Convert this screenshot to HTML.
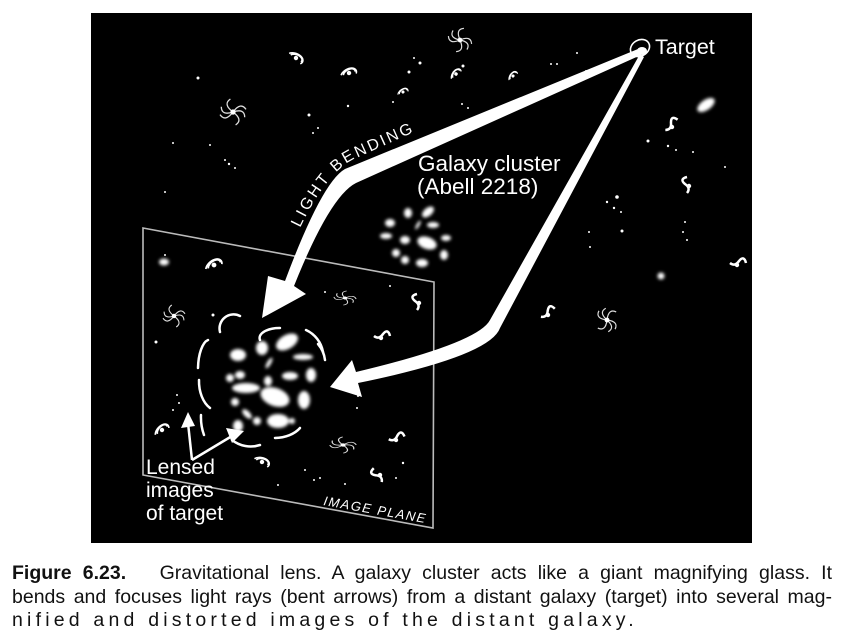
<!DOCTYPE html>
<html><head><meta charset="utf-8"><style>
html,body{margin:0;padding:0;background:#fff;width:846px;height:644px;overflow:hidden}
svg{position:absolute;left:0;top:0}
.cap{position:absolute;left:12px;top:562px;width:820px;font-family:"Liberation Sans",sans-serif;font-size:19.5px;line-height:23.5px;color:#111}
.ln{text-align:justify;text-align-last:justify;white-space:nowrap;height:23.5px}
.l3{text-align:left;text-align-last:left;letter-spacing:4.2px}
</style></head><body>
<svg width="846" height="644" viewBox="0 0 846 644">
<defs>
<filter id="b" x="-50%" y="-50%" width="200%" height="200%"><feGaussianBlur stdDeviation="1.6"/></filter>
<g id="sp"><path d="M-8,-2 A8,5 0 1 1 6,4 M6,2 A5,3 0 1 0 -6,-1" fill="none" stroke="#fff" stroke-width="1.6"/><circle r="2.2" fill="#fff"/></g>
<g id="sw"><path d="M0,0 q6,-8 10,-2 M0,0 q-6,8 -10,2 M0,0 q8,6 2,10 M0,0 q-8,-6 -2,-10 M0,0 q9,-3 9,4 M0,0 q-9,3 -9,-4" fill="none" stroke="#ddd" stroke-width="1"/><circle r="2" fill="#fff"/></g>
<g id="ss"><path d="M-2,-9 q-8,2 -2,7 q6,4 2,9" fill="none" stroke="#fff" stroke-width="2.5"/><circle r="2.2" fill="#fff"/></g>
</defs>
<rect x="91" y="13" width="661" height="530" fill="#000"/>
<g fill="#fff">
<circle cx="198" cy="78" r="1.5"/><circle cx="173" cy="143" r="1"/><circle cx="210" cy="145" r="1"/><circle cx="229" cy="164" r="1.2"/><circle cx="165" cy="192" r="1"/><circle cx="235" cy="168" r="1"/><circle cx="309" cy="115" r="1.5"/><circle cx="313" cy="133" r="1"/><circle cx="318" cy="128" r="1"/><circle cx="348" cy="106" r="1.2"/><circle cx="225" cy="160" r="1"/>
<circle cx="409" cy="72" r="1.5"/><circle cx="414" cy="58" r="1"/><circle cx="420" cy="63" r="1.5"/><circle cx="463" cy="66" r="1.5"/><circle cx="393" cy="102" r="1"/><circle cx="462" cy="104" r="1"/><circle cx="468" cy="108" r="1"/><circle cx="551" cy="64" r="1"/><circle cx="557" cy="64" r="1"/><circle cx="577" cy="53" r="1"/><circle cx="586" cy="71" r="1"/>
<circle cx="648" cy="141" r="1.5"/><circle cx="668" cy="146" r="1.2"/><circle cx="676" cy="150" r="1"/><circle cx="693" cy="152" r="1"/><circle cx="725" cy="167" r="1"/><circle cx="607" cy="202" r="1.2"/><circle cx="617" cy="197" r="1.8"/><circle cx="614" cy="208" r="1.2"/><circle cx="621" cy="212" r="1"/><circle cx="589" cy="232" r="1"/><circle cx="622" cy="231" r="1.5"/><circle cx="685" cy="222" r="1"/><circle cx="683" cy="232" r="1"/><circle cx="687" cy="240" r="1"/><circle cx="590" cy="247" r="1"/>
<circle cx="165" cy="255" r="1"/><circle cx="213" cy="315" r="1.5"/><circle cx="156" cy="342" r="1.5"/><circle cx="177" cy="395" r="1"/><circle cx="179" cy="403" r="1"/><circle cx="173" cy="410" r="1"/><circle cx="325" cy="292" r="1"/><circle cx="390" cy="286" r="1"/><circle cx="358" cy="396" r="1"/><circle cx="357" cy="408" r="1"/><circle cx="305" cy="470" r="1"/><circle cx="314" cy="480" r="1"/><circle cx="320" cy="478" r="1"/><circle cx="278" cy="485" r="1"/><circle cx="403" cy="463" r="1.2"/><circle cx="396" cy="478" r="1"/><circle cx="345" cy="484" r="1"/>
</g>
<g filter="url(#b)" fill="#fff">
<ellipse cx="706" cy="105" rx="10" ry="5" transform="rotate(-35 706 105)"/>
<circle cx="661" cy="276" r="3.5"/>
<ellipse cx="164" cy="262" rx="5" ry="3.5"/>
</g>
<use href="#sp" transform="translate(296,58) rotate(20)"/>
<use href="#sp" transform="translate(349,73) rotate(-30)"/>
<use href="#sw" transform="translate(233,112) scale(1.3)"/>
<use href="#sw" transform="translate(460,40) scale(1.2) rotate(30)"/>
<use href="#sp" transform="translate(403,92) scale(0.7) rotate(-40)"/>
<use href="#sp" transform="translate(456,74) scale(0.8) rotate(-60)"/>
<use href="#sp" transform="translate(513,76) scale(0.7) rotate(-60)"/>
<use href="#ss" transform="translate(672,127) rotate(50)"/>
<use href="#ss" transform="translate(689,186)"/>
<use href="#ss" transform="translate(737,265) rotate(90)"/>
<use href="#ss" transform="translate(548,315) rotate(60)"/>
<use href="#sw" transform="translate(607,320) scale(1.2) rotate(60)"/>
<use href="#sp" transform="translate(214,265) scale(1.1) rotate(-40)"/>
<use href="#sw" transform="translate(174,316) scale(1.1)"/>
<use href="#sw" transform="translate(345,298) scale(1.1,0.7) rotate(20)"/>
<use href="#ss" transform="translate(419,303)"/>
<use href="#ss" transform="translate(381,338) rotate(90)"/>
<use href="#sp" transform="translate(162,430) scale(1) rotate(-50)"/>
<use href="#sp" transform="translate(262,462) scale(1) rotate(10)"/>
<use href="#sw" transform="translate(343,445) scale(1.3,0.8) rotate(10)"/>
<use href="#ss" transform="translate(396,440) rotate(80)"/>
<use href="#ss" transform="translate(380,475) rotate(-30)"/>
<ellipse cx="640" cy="48" rx="10" ry="8" fill="none" stroke="#fff" stroke-width="1.6" transform="rotate(-30 640 48)"/>
<ellipse cx="642" cy="51" rx="5" ry="4" fill="#fff"/>
<g filter="url(#b)" fill="#fff">
<ellipse cx="390" cy="223" rx="5" ry="4"/><ellipse cx="408" cy="213" rx="4" ry="5"/><ellipse cx="428" cy="212" rx="7" ry="4" transform="rotate(-40 428 212)"/><ellipse cx="386" cy="236" rx="6" ry="3"/><ellipse cx="405" cy="240" rx="5" ry="4"/><ellipse cx="427" cy="243" rx="10" ry="6" transform="rotate(20 427 243)"/><ellipse cx="446" cy="238" rx="5" ry="3"/><ellipse cx="433" cy="225" rx="6" ry="3"/><ellipse cx="444" cy="255" rx="4" ry="5"/><ellipse cx="422" cy="263" rx="6" ry="4"/><ellipse cx="405" cy="260" rx="4" ry="4"/><ellipse cx="396" cy="253" rx="4" ry="4"/><ellipse cx="418" cy="225" rx="1.5" ry="5" transform="rotate(30 418 225)"/>
</g>
<g filter="url(#b)" fill="#fff">
<ellipse cx="238" cy="355" rx="8" ry="6"/><ellipse cx="262" cy="348" rx="6" ry="7"/><ellipse cx="287" cy="342" rx="12" ry="7" transform="rotate(-30 287 342)"/><ellipse cx="230" cy="378" rx="4" ry="4"/><ellipse cx="240" cy="375" rx="5" ry="4"/><ellipse cx="246" cy="388" rx="14" ry="5"/><ellipse cx="268" cy="381" rx="4" ry="5"/><ellipse cx="290" cy="376" rx="8" ry="4"/><ellipse cx="303" cy="357" rx="10" ry="3"/><ellipse cx="311" cy="375" rx="5" ry="7"/><ellipse cx="275" cy="397" rx="15" ry="9" transform="rotate(20 275 397)"/><ellipse cx="304" cy="400" rx="6" ry="9"/><ellipse cx="235" cy="402" rx="4" ry="4"/><ellipse cx="247" cy="414" rx="6" ry="3" transform="rotate(45 247 414)"/><ellipse cx="238" cy="426" rx="5" ry="6"/><ellipse cx="257" cy="421" rx="4" ry="4"/><ellipse cx="278" cy="421" rx="11" ry="7"/><ellipse cx="292" cy="421" rx="3" ry="3"/><ellipse cx="269" cy="363" rx="2" ry="6" transform="rotate(30 269 363)"/>
</g>
<g fill="none" stroke="#fff" stroke-width="2.5" stroke-linecap="round">
<path d="M220,332 A14,14 0 0 1 240,316"/>
<path d="M198,368 A12,30 0 0 1 208,340"/>
<path d="M210,408 A20,30 0 0 1 199,380"/>
<path d="M204,435 A30,40 0 0 1 201,415"/>
<path d="M232,440 A30,30 0 0 0 260,445"/>
<path d="M275,438 A30,20 0 0 0 300,428"/>
<path d="M306,330 A30,30 0 0 1 323,352"/>
<path d="M318,344 A30,30 0 0 1 325,360"/>
<path d="M260,340 A20,10 0 0 1 280,328"/>
</g>
<polygon points="143,228 434,282 433,528 143,475" fill="none" stroke="#bbb" stroke-width="1.6"/>
<path d="M638,49 L345,169 Q322,182 285,281 L268,276 L262,318 L306,294 L294,286 Q330,196 356,183 L641,55 Z" fill="#fff"/>
<path d="M640,54 L490,320 Q478,343 356,372 L352,360 L330,387 L362,397 L358,383 Q490,356 500,328 L644,57 Z" fill="#fff"/>
<g stroke="#fff" stroke-width="2.5" fill="#fff">
<line x1="192" y1="460" x2="188" y2="423"/><line x1="192" y1="460" x2="232" y2="436"/>
</g>
<polygon points="188,412 181,428 195,426" fill="#fff"/>
<polygon points="244,431 226,428 232,443" fill="#fff"/>
<g font-family="'Liberation Sans',sans-serif" fill="#fff">
<text x="655" y="54" font-size="21.5">Target</text>
<text x="418" y="171" font-size="22.5">Galaxy cluster</text>
<text x="417" y="194" font-size="22.5">(Abell 2218)</text>
<text x="146" y="474" font-size="21">Lensed</text>
<text x="146" y="497" font-size="21">images</text>
<text x="146" y="520" font-size="21">of target</text>
<text x="323" y="505" font-size="13" font-style="italic" letter-spacing="1.5" transform="rotate(10 323 505)">IMAGE PLANE</text>
<path id="lb" d="M300,228 Q325,175 352,160 L445,118" fill="none"/>
<text font-size="16" letter-spacing="2.5"><textPath href="#lb">LIGHT BENDING</textPath></text>
</g>
</svg>
<div class="cap">
<div class="ln"><b>Figure 6.23.</b>&nbsp;&nbsp;&nbsp;Gravitational lens. A galaxy cluster acts like a giant magnifying glass. It</div>
<div class="ln">bends and focuses light rays (bent arrows) from a distant galaxy (target) into several mag-</div>
<div class="ln l3">nified and distorted images of the distant galaxy.</div>
</div>
</body></html>
